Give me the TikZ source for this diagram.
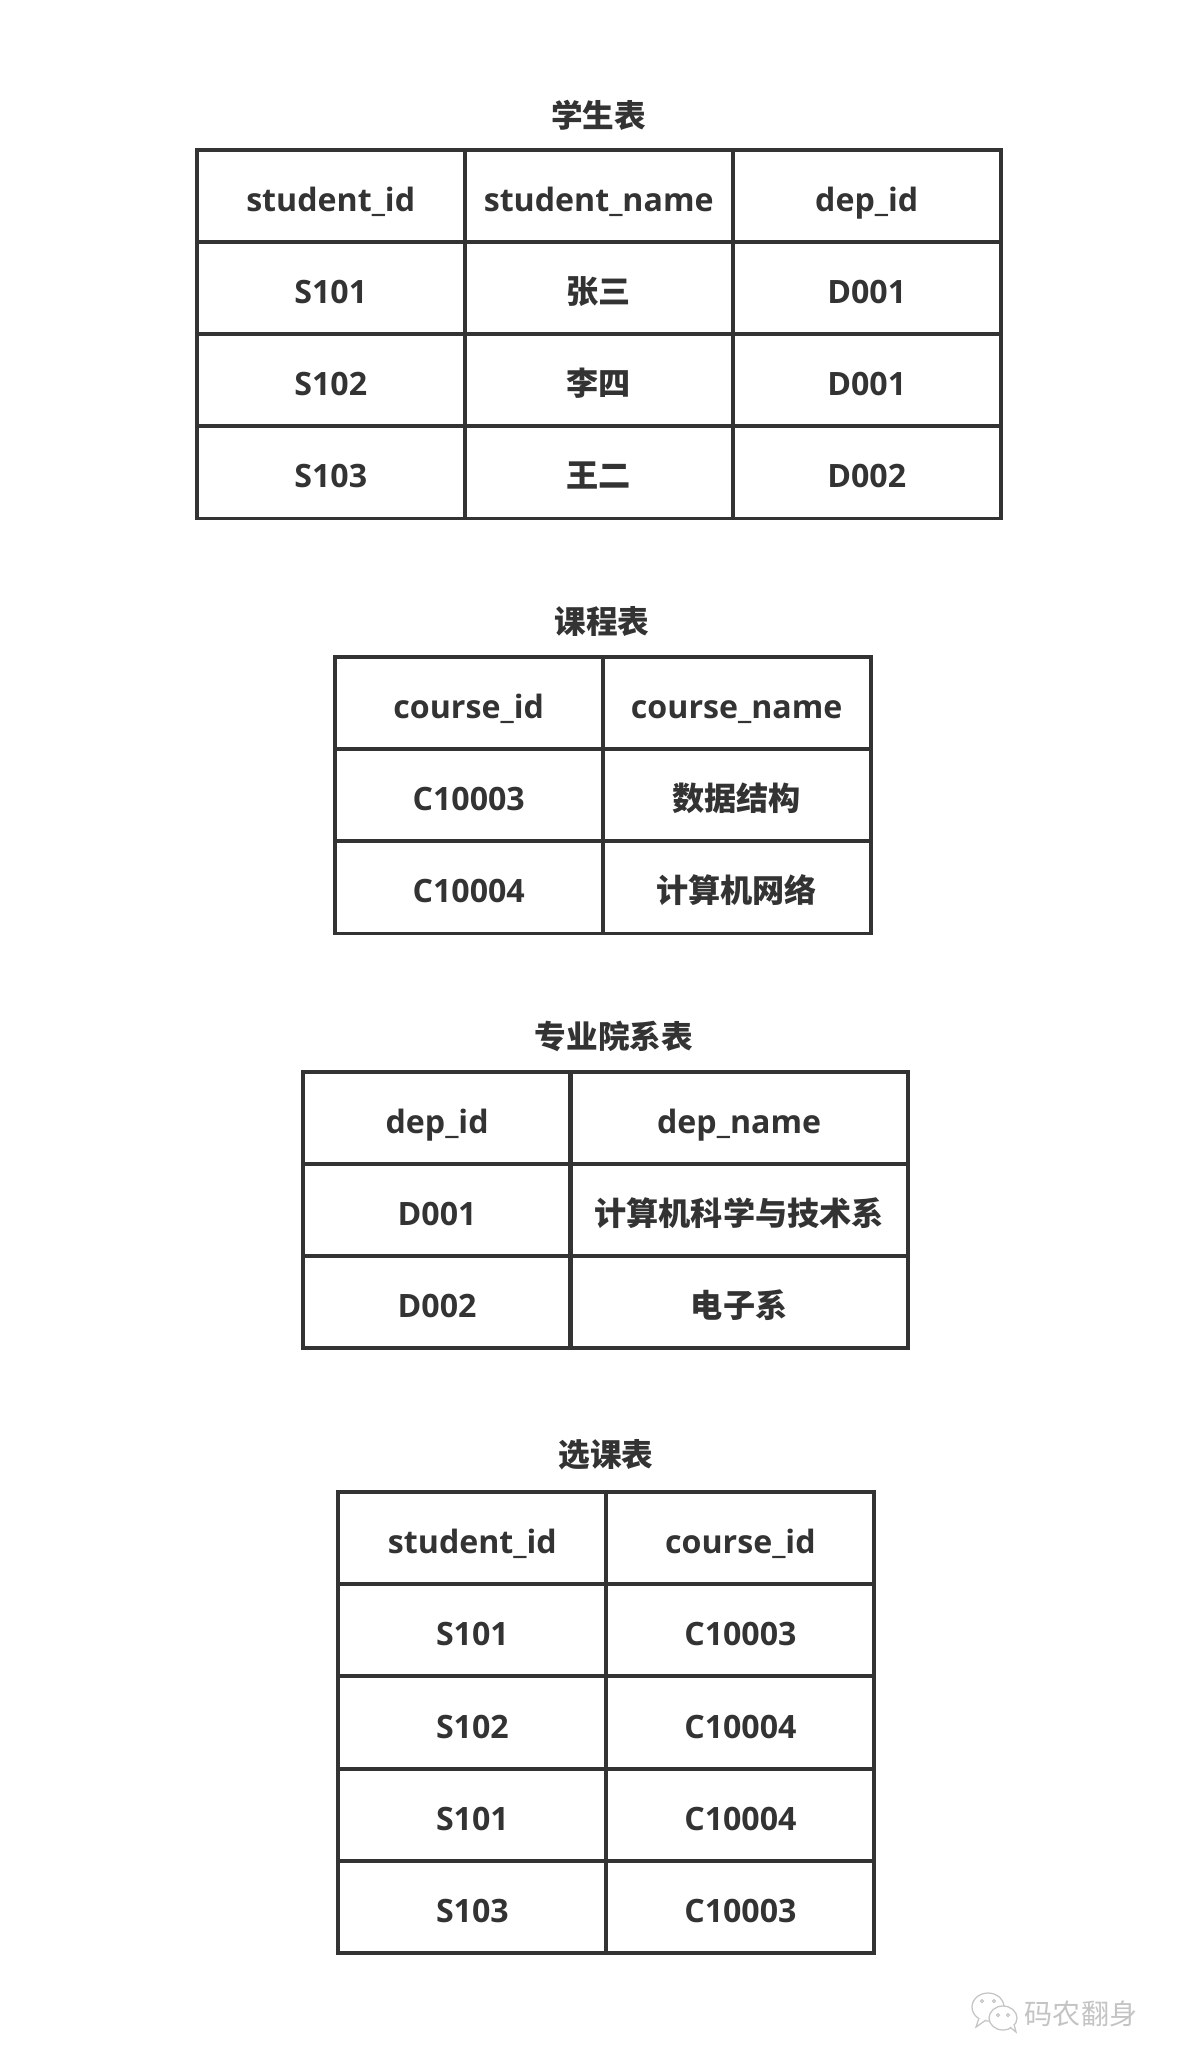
\documentclass[tikz,border=0pt]{standalone}
\usepackage{fontspec}
\setmainfont{Open Sans}
\newfontfamily\cjk{Noto Sans CJK SC}
\usetikzlibrary{positioning}

\definecolor{linec}{HTML}{333333}
\definecolor{markc}{HTML}{C4C4C4}

\tikzset{
  cell/.style={draw=linec, line width=2.2pt, minimum width=5.36cm, minimum height=1.844cm,
    inner sep=0pt, text height=0.62cm, text depth=0cm, text=linec,
    font=\fontsize{18.3}{20}\selectfont\bfseries},
  widecell/.style={cell, minimum width=6.76cm},
  tabtitle/.style={text=linec, font=\fontsize{18}{20}\selectfont\cjk\bfseries},
}

\begin{document}
\begin{tikzpicture}[x=0.02cm, y=-0.02cm]
\fill[white] (0,0) rectangle (1181,2067);
\useasboundingbox (0,0) rectangle (1181,2067);

% student table
\path (598.8,115.5) node[tabtitle] (t1) {学生表};
\foreach \r/\a/\b/\c in {0/student\_id/student\_name/dep\_id,
  1/S101/{\cjk 张三}/D001, 2/S102/{\cjk 李四}/D001, 3/S103/{\cjk 王二}/D002}
{
	\path (330.7,195.8+92.2*\r) node[cell] (s\r a) {\a};
	\path (598.7,195.8+92.2*\r) node[cell] (s\r b) {\b};
	\path (866.7,195.8+92.2*\r) node[cell] (s\r c) {\c};
}

% course table
\path (602,621.3) node[tabtitle] (t2) {课程表};
\foreach \r/\a/\b in {0/course\_id/course\_name,
  1/C10003/{\cjk 数据结构}, 2/C10004/{\cjk 计算机网络}}
{
	\path (468.7,703+92.2*\r) node[cell] (c\r a) {\a};
	\path (736.7,703+92.2*\r) node[cell] (c\r b) {\b};
}

% department table
\path (614,1036.2) node[tabtitle] (t3) {专业院系表};
\foreach \r/\a/\b in {0/dep\_id/dep\_name,
  1/D001/{\cjk 计算机科学与技术系}, 2/D002/{\cjk 电子系}}
{
	\path (437.1,1117.9+92.2*\r) node[cell] (d\r a) {\a};
	\path (739.1,1117.9+92.2*\r) node[widecell] (d\r b) {\b};
}

% selection table
\path (606,1455.1) node[tabtitle] (t4) {选课表};
\foreach \r/\a/\b in {0/student\_id/course\_id,
  1/S101/C10003, 2/S102/C10004, 3/S101/C10004, 4/S103/C10003}
{
	\path (472.4,1538.1+92.2*\r) node[cell] (x\r a) {\a};
	\path (740.4,1538.1+92.2*\r) node[cell] (x\r b) {\b};
}

% watermark
\draw[markc, line width=0.7pt, fill=white] (988,2007) ellipse [x radius=0.32cm, y radius=0.28cm];
\draw[markc, line width=0.7pt, fill=white] (979,2018) -- (976,2027) -- (986,2020);
\draw[markc, line width=0.7pt, fill=white] (1003,2018) ellipse [x radius=0.28cm, y radius=0.24cm];
\draw[markc, line width=0.7pt, fill=white] (1010,2027) -- (1016,2032) -- (1014,2024);
\foreach \x/\y in {982/2001, 994/2001, 998/2015, 1008/2015}
	\draw[markc, line width=0.6pt] (\x,\y) circle (0.03cm);
\path (1081,2014) node[text=markc, font=\fontsize{16}{18}\selectfont\cjk] (mark) {码农翻身};

\end{tikzpicture}
\end{document}
